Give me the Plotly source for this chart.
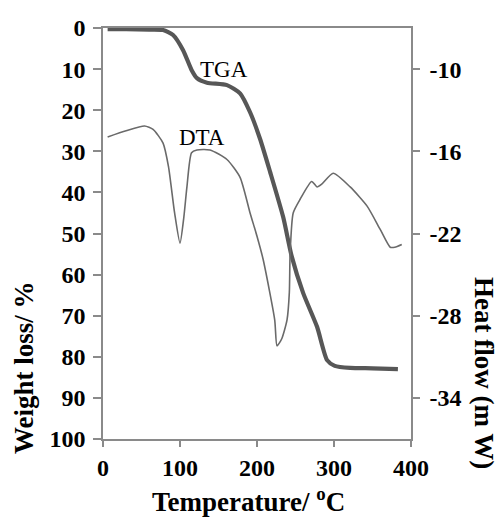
import plotly.graph_objects as go

# TGA: temperature (°C) vs weight loss (%)
tga_temp = [6, 30, 60, 78, 91, 104, 115, 122, 135, 161, 178, 191, 204, 217, 234, 245, 260, 278, 291, 301, 321, 350, 383]
tga_loss = [0.3, 0.3, 0.4, 0.5, 1.7, 5.4, 10.2, 12.2, 13.3, 13.9, 15.9, 20.5, 27, 35, 46, 55.5, 64.5, 72.7, 80.8, 82.2, 82.7, 82.8, 83]

# DTA: temperature (°C) vs heat flow (mW)
dta_temp = [6, 30, 54, 65, 78, 85, 93, 100, 105, 109, 115, 122, 139, 161, 178, 191, 200, 208, 223, 226, 232, 239, 242, 243, 247, 256, 271, 278, 284, 299, 321, 343, 360, 373, 379, 388]
dta_heat = [-14.95, -14.5, -14.15, -14.4, -15.4, -17.1, -20.5, -22.7, -20.8, -18.6, -16.1, -15.9, -15.9, -16.6, -17.9, -20.5, -22.2, -23.9, -28.3, -30.2, -29.7, -28.3, -26.3, -23.5, -20.5, -19.5, -18.2, -18.6, -18.4, -17.6, -18.6, -20.0, -21.7, -23.0, -23.0, -22.8]

x_ticks = [0, 100, 200, 300, 400]
left_ticks = [0, 10, 20, 30, 40, 50, 60, 70, 80, 90, 100]
right_ticks = [-10, -16, -22, -28, -34]
right_labels = [str(v) for v in right_ticks]

SERIF = "Liberation Serif"
AX = "#8a8a8a"

# plot area in pixels
L, R, T, B = 103, 411, 28, 439
W_PX, H_PX = R - L, B - T


def px_x(px):
    return (px - L) / W_PX


def px_y(py):
    return (B - py) / H_PX


fig = go.Figure()
fig.add_trace(go.Scatter(x=dta_temp, y=dta_heat, yaxis="y2", mode="lines",
                         line=dict(color="#6a6a6a", width=1.6, shape="spline", smoothing=0.6),
                         showlegend=False))
fig.add_trace(go.Scatter(x=tga_temp, y=tga_loss, mode="lines",
                         line=dict(color="#575757", width=4.2, shape="spline", smoothing=0.6),
                         showlegend=False))

tickfont = dict(family=SERIF, size=24, color="black", weight="bold")
titlefont = dict(family=SERIF, size=27, color="black", weight="bold")

fig.update_layout(
    width=500, height=523,
    margin=dict(l=L, r=500 - R, t=T, b=523 - B),
    paper_bgcolor="white", plot_bgcolor="white",
    xaxis=dict(range=[0, 400], tickvals=x_ticks, showline=True, linecolor=AX, linewidth=1.5,
               mirror=True, ticks="outside", ticklen=6, tickcolor=AX, tickwidth=1.5,
               showgrid=False, zeroline=False, tickfont=tickfont),
    yaxis=dict(range=[100, 0], tickvals=left_ticks, showline=True, linecolor=AX, linewidth=1.5,
               ticks="outside", ticklen=8, tickcolor=AX, tickwidth=1.5,
               showgrid=False, zeroline=False, tickfont=tickfont, ticklabelstandoff=3),
    yaxis2=dict(range=[-37, -7], tickvals=right_ticks, ticktext=right_labels, overlaying="y", side="right",
                showline=True, linecolor=AX, linewidth=1.5,
                ticks="outside", ticklen=7, tickcolor=AX, tickwidth=1.5,
                showgrid=False, zeroline=False, tickfont=tickfont, ticklabelstandoff=5),
    annotations=[
        dict(text="TGA", x=157, y=10.2, xref="x", yref="y", showarrow=False,
             font=dict(family=SERIF, size=23, color="black")),
        dict(text="DTA", x=128.6, y=-15.0, xref="x", yref="y2", showarrow=False,
             font=dict(family=SERIF, size=23, color="black")),
        dict(text="Temperature/ <sup>o</sup>C", x=px_x(248), y=px_y(500), xref="paper", yref="paper",
             xanchor="center", yanchor="middle", showarrow=False, font=titlefont),
        dict(text="Weight loss/ %", x=px_x(24), y=px_y(368), xref="paper", yref="paper", textangle=-90,
             xanchor="center", yanchor="middle", showarrow=False, font=titlefont),
        dict(text="Heat flow (m W)", x=px_x(484), y=px_y(373), xref="paper", yref="paper", textangle=90,
             xanchor="center", yanchor="middle", showarrow=False, font=titlefont),
    ],
)
fig.write_html("out.html", config={"displayModeBar": False},
               post_script="document.body.style.margin='0';")
